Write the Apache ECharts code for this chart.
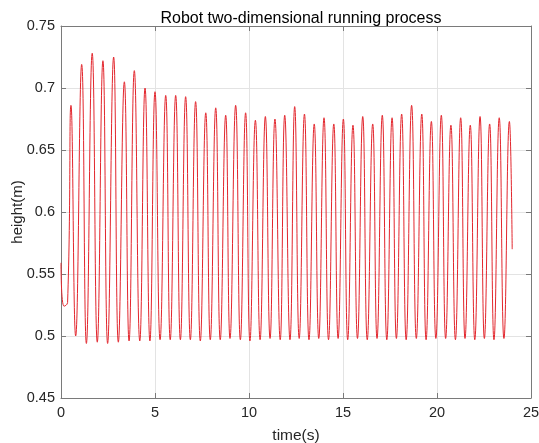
<!DOCTYPE html>
<html>
<head>
<meta charset="utf-8">
<script src="https://cdn.jsdelivr.net/npm/echarts@6/dist/echarts.min.js"></script>
<style>html,body{margin:0;padding:0;background:#fff;}#c{width:539px;height:443px;}</style>
</head>
<body>
<div id="c"></div>
<script>
const xTicks = [0, 5, 10, 15, 20, 25];
const yTicks = [0.45, 0.5, 0.55, 0.6, 0.65, 0.7, 0.75];
const startT = [0, 0.16, 0.35];
const startH = [0.559, 0.524, 0.527];
const peakT = [0.53,1.10,1.66,2.23,2.80,3.37,3.90,4.47,5.00,5.57,6.10,6.63,7.16,7.70,8.23,8.76,9.29,9.82,10.34,10.87,11.38,11.90,12.43,12.95,13.47,13.99,14.51,15.02,15.53,16.05,16.58,17.09,17.61,18.12,18.65,19.19,19.70,20.23,20.74,21.26,21.77,22.29,22.80,23.31,23.85];
const peakH = [0.686,0.719,0.728,0.722,0.725,0.705,0.714,0.700,0.697,0.694,0.694,0.693,0.689,0.680,0.684,0.678,0.686,0.680,0.674,0.677,0.675,0.678,0.685,0.679,0.671,0.676,0.671,0.675,0.670,0.677,0.671,0.678,0.676,0.679,0.686,0.679,0.673,0.678,0.670,0.676,0.670,0.677,0.671,0.676,0.673];
const troughT = [0.78,1.35,1.93,2.48,3.05,3.62,4.19,4.73,5.27,5.81,6.35,6.88,7.41,7.94,8.47,8.99,9.54,10.05,10.59,11.12,11.66,12.18,12.67,13.19,13.71,14.23,14.74,15.25,15.77,16.29,16.81,17.33,17.84,18.36,18.90,19.42,19.94,20.46,20.98,21.49,22.01,22.52,23.03,23.56];
const troughH = [0.500,0.494,0.495,0.494,0.495,0.496,0.496,0.496,0.497,0.497,0.497,0.497,0.496,0.497,0.497,0.498,0.497,0.496,0.497,0.498,0.497,0.497,0.498,0.497,0.498,0.497,0.498,0.497,0.498,0.497,0.498,0.497,0.498,0.497,0.498,0.497,0.498,0.498,0.497,0.498,0.497,0.498,0.497,0.498];
const endT = [24.0];
const endH = [0.570];

const pts = [];
startT.forEach((t, i) => pts.push([t, startH[i]]));
peakT.forEach((t, i) => pts.push([t, peakH[i]]));
troughT.forEach((t, i) => pts.push([t, troughH[i]]));
endT.forEach((t, i) => pts.push([t, endH[i]]));
pts.sort((a, b) => a[0] - b[0]);

const axisCol = '#7a7a7a';
const txtCol = '#262626';
const font = 'Liberation Sans, Arial, Helvetica, sans-serif';

const chart = echarts.init(document.getElementById('c'), null, {renderer: 'canvas'});
const xBase = {
  type: 'value', min: xTicks[0], max: xTicks[xTicks.length - 1], interval: 5,
  axisLine: {show: true, onZero: false, lineStyle: {color: axisCol, width: 1}},
  axisTick: {show: true, inside: true, length: 5, lineStyle: {color: axisCol}},
};
const yBase = {
  type: 'value', min: yTicks[0], max: yTicks[yTicks.length - 1], interval: 0.05,
  axisLine: {show: true, onZero: false, lineStyle: {color: axisCol, width: 1}},
  axisTick: {show: true, inside: true, length: 5, lineStyle: {color: axisCol}},
};
chart.setOption({
  animation: false,
  backgroundColor: '#fff',
  title: {
    text: 'Robot two-dimensional running process',
    left: 296, top: 6, textAlign: 'center',
    textStyle: {fontFamily: font, fontSize: 16, fontWeight: 'normal', color: '#000'}
  },
  grid: {left: 61, right: 8, top: 26, bottom: 45, containLabel: false, outerBoundsMode: 'none'},
  xAxis: [
    Object.assign({}, xBase, {
      position: 'bottom',
      name: 'time(s)', nameLocation: 'middle', nameGap: 30, nameMoveOverlap: false,
      nameTextStyle: {fontFamily: font, fontSize: 15.5, color: txtCol},
      axisLabel: {show: true, margin: 7, fontFamily: font, fontSize: 14.5, color: txtCol},
      splitLine: {show: true, lineStyle: {color: '#e3e3e3', width: 1}}
    }),
    Object.assign({}, xBase, {position: 'top', axisLabel: {show: false}, splitLine: {show: false}})
  ],
  yAxis: [
    Object.assign({}, yBase, {
      position: 'left',
      name: 'height(m)', nameLocation: 'middle', nameGap: 36, nameRotate: 90, nameMoveOverlap: false,
      nameTextStyle: {fontFamily: font, fontSize: 15, color: txtCol},
      axisLabel: {show: true, margin: 6, fontFamily: font, fontSize: 14.5, color: txtCol,
        formatter: v => String(+v.toFixed(2))},
      splitLine: {show: true, lineStyle: {color: '#e3e3e3', width: 1}}
    }),
    Object.assign({}, yBase, {position: 'right', axisLabel: {show: false}, splitLine: {show: false}})
  ],
  series: [{
    type: 'line', xAxisIndex: 0, yAxisIndex: 0,
    data: pts, showSymbol: false, symbol: 'none', smooth: 0.5,
    lineStyle: {color: '#e3262d', width: 1}
  }]
});
</script>
</body>
</html>
